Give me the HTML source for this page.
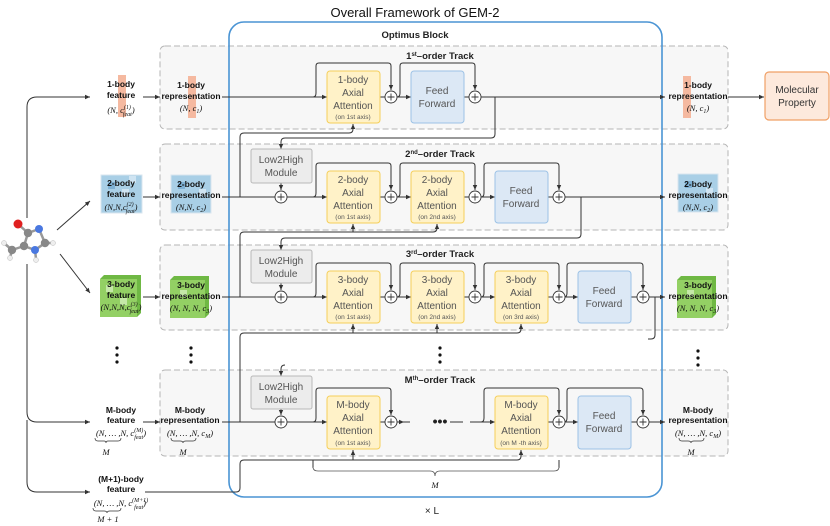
<!DOCTYPE html>
<html><head><meta charset="utf-8"><style>
html,body{margin:0;padding:0;background:#fff;}
svg{display:block;font-family:"Liberation Sans",sans-serif;}
.b{font-weight:bold;font-size:8.5px;fill:#111;text-anchor:middle;}
.m{font-family:"Liberation Serif",serif;font-style:italic;font-size:8.5px;fill:#111;text-anchor:middle;}
.bx{font-size:10px;fill:#555;text-anchor:middle;}
.sm{font-size:6.5px;fill:#555;text-anchor:middle;}
.tt{font-weight:bold;font-size:9.5px;fill:#222;text-anchor:middle;}
.ln{fill:none;stroke:#333;stroke-width:1;}
.att{fill:#fff2c8;stroke:#f5cf5a;stroke-width:1;}
.ff{fill:#dce8f5;stroke:#9cc2e6;stroke-width:1;}
.lh{fill:#ececec;stroke:#b8b8b8;stroke-width:1;}
.pl{fill:#fff;stroke:#333;stroke-width:0.9;}
.trk{fill:#f7f7f7;stroke:#b5b5b5;stroke-width:1;stroke-dasharray:6,3;}
</style></head><body>
<svg width="830" height="526" viewBox="0 0 830 526" xmlns="http://www.w3.org/2000/svg">
<defs>
<marker id="a" markerWidth="6" markerHeight="6" refX="5" refY="3" orient="auto" markerUnits="userSpaceOnUse"><path d="M0,0.8 L5,3 L0,5.2z" fill="#333"/></marker>
<g id="plus"><circle r="6" class="pl"/><path d="M-3.5,0H3.5M0,-3.5V3.5" stroke="#333" stroke-width="0.9"/></g>
</defs>

<rect x="160" y="46" width="568" height="83" rx="5" class="trk"/>
<rect x="160" y="144" width="568" height="86" rx="5" class="trk"/>
<rect x="160" y="245" width="568" height="85" rx="5" class="trk"/>
<rect x="160" y="370" width="568" height="86" rx="5" class="trk"/>

<rect x="229" y="22" width="433" height="475" rx="15" fill="none" stroke="#4a94d4" stroke-width="1.6"/>
<text x="415" y="17" font-size="13" fill="#111" text-anchor="middle">Overall Framework of GEM-2</text>
<text x="415" y="38" class="tt">Optimus Block</text>
<text x="432" y="514" font-size="10" fill="#222" text-anchor="middle">× L</text>

<text x="440" y="59" class="tt">1<tspan font-size="6" dy="-3">st</tspan><tspan dy="3">–order Track</tspan></text>
<text x="440" y="157" class="tt">2<tspan font-size="6" dy="-3">nd</tspan><tspan dy="3">–order Track</tspan></text>
<text x="440" y="257" class="tt">3<tspan font-size="6" dy="-3">rd</tspan><tspan dy="3">–order Track</tspan></text>
<text x="440" y="383" class="tt">M<tspan font-size="6" dy="-3">th</tspan><tspan dy="3">–order Track</tspan></text>

<path class="ln" d="M222,97H665" marker-end="url(#a)"/>
<path class="ln" d="M222,197H665" marker-end="url(#a)"/>
<path class="ln" d="M222,297H665" marker-end="url(#a)"/>
<path class="ln" d="M222,422H417"/>
<path class="ln" d="M463,422H665" marker-end="url(#a)"/>
<path class="ln" d="M728,97H764" marker-end="url(#a)"/>
<rect x="410" y="415" width="60" height="14" fill="#f7f7f7"/>
<text x="440" y="426" font-size="14" font-weight="bold" fill="#222" text-anchor="middle">•••</text>
<path class="ln" d="M450,422H463"/>

<g class="ln">
<path d="M318,97H327" marker-end="url(#a)"/><path d="M402,97H411" marker-end="url(#a)"/>
<path d="M318,197H327" marker-end="url(#a)"/><path d="M402,197H411" marker-end="url(#a)"/><path d="M486,197H495" marker-end="url(#a)"/>
<path d="M318,297H327" marker-end="url(#a)"/><path d="M402,297H411" marker-end="url(#a)"/><path d="M486,297H495" marker-end="url(#a)"/><path d="M569,297H578" marker-end="url(#a)"/>
<path d="M318,422H327" marker-end="url(#a)"/><path d="M486,422H495" marker-end="url(#a)"/><path d="M569,422H578" marker-end="url(#a)"/>
<path d="M397,422H404" marker-end="url(#a)"/>
</g>

<g class="ln">
<path d="M313,97Q316,97 316,93V66Q316,63 319,63H388Q391,63 391,66V90" marker-end="url(#a)"/>
<path d="M397,97Q400,97 400,93V66Q400,63 403,63H472Q475,63 475,66V90" marker-end="url(#a)"/>
<path d="M313,197Q316,197 316,193V166Q316,163 319,163H388Q391,163 391,166V190" marker-end="url(#a)"/>
<path d="M397,197Q400,197 400,193V166Q400,163 403,163H472Q475,163 475,166V190" marker-end="url(#a)"/>
<path d="M481,197Q484,197 484,193V166Q484,163 487,163H556Q559,163 559,166V190" marker-end="url(#a)"/>
<path d="M313,297Q316,297 316,293V266Q316,263 319,263H388Q391,263 391,266V290" marker-end="url(#a)"/>
<path d="M397,297Q400,297 400,293V266Q400,263 403,263H472Q475,263 475,266V290" marker-end="url(#a)"/>
<path d="M481,297Q484,297 484,293V266Q484,263 487,263H556Q559,263 559,266V290" marker-end="url(#a)"/>
<path d="M564,297Q567,297 567,293V266Q567,263 570,263H640Q643,263 643,266V290" marker-end="url(#a)"/>
<path d="M313,422Q316,422 316,418V391Q316,388 319,388H388Q391,388 391,391V415" marker-end="url(#a)"/>
<path d="M481,422Q484,422 484,418V391Q484,388 487,388H556Q559,388 559,391V415" marker-end="url(#a)"/>
<path d="M564,422Q567,422 567,418V391Q567,388 570,388H640Q643,388 643,391V415" marker-end="url(#a)"/>
</g>

<g class="ln">
<path d="M495,97V134Q495,138 491,138H285Q281,138 281,142V149" marker-end="url(#a)"/>
<path d="M240,197V137Q240,133 244,133H349Q353,133 353,129V124" marker-end="url(#a)"/>
<path d="M281,183V190" marker-end="url(#a)"/>
<path d="M581,197V234Q581,238 577,238H285Q281,238 281,242V250" marker-end="url(#a)"/>
<path d="M240,297V236Q240,232 244,232H433Q437,232 437,228V224" marker-end="url(#a)"/>
<path d="M353,232V224" marker-end="url(#a)"/>
<path d="M281,283V290" marker-end="url(#a)"/>
<path d="M655,297V335Q655,339 651,339H648"/>
<path d="M240,422V337Q240,333 244,333H517Q521,333 521,329V324" marker-end="url(#a)"/>
<path d="M353,333V324" marker-end="url(#a)"/><path d="M437,333V324" marker-end="url(#a)"/>
<path d="M285,365Q281,365 281,369V376" marker-end="url(#a)"/>
<path d="M281,409V415" marker-end="url(#a)"/>
<path d="M240,488V464Q240,460 244,460H517Q521,460 521,456V450" marker-end="url(#a)"/>
<path d="M353,460V450" marker-end="url(#a)"/>
<path d="M313,460V468M559,460V468"/>
<path d="M145,492H236Q240,492 240,488"/>
</g>
<path d="M313,467Q313,471 318,471H430Q435,471 435,476Q435,471 440,471H554Q559,471 559,467" fill="none" stroke="#555" stroke-width="0.8"/>
<text x="435" y="488" class="m" font-size="8">M</text>

<g>
<rect x="327" y="71" width="53" height="52" rx="3" class="att"/>
<rect x="411" y="71" width="53" height="52" rx="3" class="ff"/>
<rect x="327" y="171" width="53" height="52" rx="3" class="att"/>
<rect x="411" y="171" width="53" height="52" rx="3" class="att"/>
<rect x="495" y="171" width="53" height="52" rx="3" class="ff"/>
<rect x="327" y="271" width="53" height="52" rx="3" class="att"/>
<rect x="411" y="271" width="53" height="52" rx="3" class="att"/>
<rect x="495" y="271" width="53" height="52" rx="3" class="att"/>
<rect x="578" y="271" width="53" height="52" rx="3" class="ff"/>
<rect x="327" y="396" width="53" height="53" rx="3" class="att"/>
<rect x="495" y="396" width="53" height="53" rx="3" class="att"/>
<rect x="578" y="396" width="53" height="53" rx="3" class="ff"/>
<rect x="251" y="149" width="61" height="34" rx="2" class="lh"/>
<rect x="251" y="250" width="61" height="33" rx="2" class="lh"/>
<rect x="251" y="376" width="61" height="33" rx="2" class="lh"/>
</g>
<g class="bx">
<text x="353" y="83">1-body</text><text x="353" y="96">Axial</text><text x="353" y="109">Attention</text>
<text x="437" y="94">Feed</text><text x="437" y="107">Forward</text>
<text x="353" y="183">2-body</text><text x="353" y="196">Axial</text><text x="353" y="209">Attention</text>
<text x="437" y="183">2-body</text><text x="437" y="196">Axial</text><text x="437" y="209">Attention</text>
<text x="521" y="194">Feed</text><text x="521" y="207">Forward</text>
<text x="353" y="283">3-body</text><text x="353" y="296">Axial</text><text x="353" y="309">Attention</text>
<text x="437" y="283">3-body</text><text x="437" y="296">Axial</text><text x="437" y="309">Attention</text>
<text x="521" y="283">3-body</text><text x="521" y="296">Axial</text><text x="521" y="309">Attention</text>
<text x="604" y="294">Feed</text><text x="604" y="307">Forward</text>
<text x="353" y="408">M-body</text><text x="353" y="421">Axial</text><text x="353" y="434">Attention</text>
<text x="521" y="408">M-body</text><text x="521" y="421">Axial</text><text x="521" y="434">Attention</text>
<text x="604" y="419">Feed</text><text x="604" y="432">Forward</text>
<text x="281" y="163">Low2High</text><text x="281" y="176">Module</text>
<text x="281" y="264">Low2High</text><text x="281" y="277">Module</text>
<text x="281" y="390">Low2High</text><text x="281" y="403">Module</text>
</g>
<g class="sm">
<text x="353" y="119">(on 1st axis)</text>
<text x="353" y="219">(on 1st axis)</text><text x="437" y="219">(on 2nd axis)</text>
<text x="353" y="319">(on 1st axis)</text><text x="437" y="319">(on 2nd axis)</text><text x="521" y="319">(on 3rd axis)</text>
<text x="353" y="445">(on 1st axis)</text><text x="521" y="445">(on M -th axis)</text>
</g>

<use href="#plus" x="391" y="97"/><use href="#plus" x="475" y="97"/>
<use href="#plus" x="281" y="197"/><use href="#plus" x="391" y="197"/><use href="#plus" x="475" y="197"/><use href="#plus" x="559" y="197"/>
<use href="#plus" x="281" y="297"/><use href="#plus" x="391" y="297"/><use href="#plus" x="475" y="297"/><use href="#plus" x="559" y="297"/><use href="#plus" x="643" y="297"/>
<use href="#plus" x="281" y="422"/><use href="#plus" x="391" y="422"/><use href="#plus" x="559" y="422"/><use href="#plus" x="643" y="422"/>

<rect x="765" y="72" width="64" height="48" rx="4" fill="#fde9dc" stroke="#f0a066" stroke-width="1.2"/>
<text x="797" y="93" class="bx" style="fill:#333">Molecular</text>
<text x="797" y="106" class="bx" style="fill:#333">Property</text>

<g class="ln">
<path d="M27,218V107Q27,97 37,97H90" marker-end="url(#a)"/>
<path d="M57,230L90,201" marker-end="url(#a)"/>
<path d="M60,254L90,293" marker-end="url(#a)"/>
<path d="M27,264V412Q27,422 37,422H90" marker-end="url(#a)"/>
<path d="M27,420V482Q27,492 37,492H90" marker-end="url(#a)"/>
<path d="M143,97H160" marker-end="url(#a)"/>
<path d="M143,197H160" marker-end="url(#a)"/>
<path d="M143,297H160" marker-end="url(#a)"/>
<path d="M143,422H160" marker-end="url(#a)"/>
</g>
<g stroke="#999" stroke-width="2.5" fill="none">
<path d="M18,224L28,233L39,229L45,243L35,250L24,246L28,233M24,246L12,250M12,250L4,243M12,250L10,258M45,243L53,243M35,250L36,259"/>
</g>
<circle cx="18" cy="224" r="4.5" fill="#e02020"/>
<circle cx="39" cy="229" r="4" fill="#4a78e0"/>
<circle cx="35" cy="250" r="4" fill="#4a78e0"/>
<circle cx="28" cy="233" r="4.2" fill="#888"/>
<circle cx="24" cy="246" r="4.2" fill="#888"/>
<circle cx="45" cy="243" r="4.2" fill="#888"/>
<circle cx="12" cy="250" r="4.2" fill="#888"/>
<g fill="#eee" stroke="#bbb" stroke-width="0.5">
<circle cx="4" cy="243" r="2.5"/><circle cx="10" cy="258" r="2.5"/><circle cx="53" cy="243" r="2.5"/><circle cx="36" cy="260" r="2.5"/>
</g>

<rect x="118" y="75" width="8" height="42" fill="#f5b9a0"/>
<rect x="188" y="76" width="8" height="42" fill="#f5b9a0"/>
<rect x="683" y="76" width="8" height="42" fill="#f5b9a0"/>
<g>
<rect x="101" y="175" width="41" height="38" fill="#a9cfe6" stroke="#d8e6ef"/>
<rect x="108" y="182" width="7" height="7" fill="#7fb1d4"/><rect x="122" y="189" width="7" height="7" fill="#cfe4f2"/><rect x="129" y="176" width="7" height="7" fill="#cfe4f2"/>
<rect x="171" y="175" width="40" height="38" fill="#a9cfe6" stroke="#d8e6ef"/>
<rect x="178" y="182" width="7" height="7" fill="#7fb1d4"/><rect x="199" y="189" width="7" height="7" fill="#cfe4f2"/>
<rect x="678" y="174" width="40" height="38" fill="#a9cfe6" stroke="#d8e6ef"/>
<rect x="685" y="181" width="7" height="7" fill="#7fb1d4"/><rect x="706" y="188" width="7" height="7" fill="#cfe4f2"/>
<rect x="100" y="279" width="37" height="38" fill="#93d064"/><path d="M100,279L104,275H141V313L137,317V279Z" fill="#6fb844"/>
<rect x="106" y="285" width="7" height="7" fill="#c5e8a8"/><rect x="120" y="298" width="7" height="7" fill="#c5e8a8"/>
<rect x="170" y="280" width="35" height="38" fill="#93d064"/><path d="M170,280L174,276H209V314L205,318V280Z" fill="#6fb844"/>
<rect x="180" y="290" width="7" height="7" fill="#c5e8a8"/>
<rect x="677" y="280" width="35" height="38" fill="#93d064"/><path d="M677,280L681,276H716V314L712,318V280Z" fill="#6fb844"/>
<rect x="687" y="290" width="7" height="7" fill="#c5e8a8"/>
</g>

<text x="121" y="87" class="b">1-body</text><text x="121" y="98" class="b">feature</text>
<text x="121" y="113" class="m">(N, c<tspan font-size="6" dy="-4">(1)</tspan><tspan font-size="6" dy="7" dx="-8">feat</tspan><tspan dy="-3">)</tspan></text>
<text x="191" y="88" class="b">1-body</text><text x="191" y="99" class="b">representation</text><text x="191" y="111" class="m">(N, c<tspan font-size="6" dy="2">1</tspan><tspan dy="-2">)</tspan></text>

<text x="121" y="186" class="b">2-body</text><text x="121" y="197" class="b">feature</text>
<text x="121" y="210" class="m">(N,N,c<tspan font-size="6" dy="-4">(2)</tspan><tspan font-size="6" dy="7" dx="-8">feat</tspan><tspan dy="-3">)</tspan></text>
<text x="191" y="187" class="b">2-body</text><text x="191" y="198" class="b">representation</text><text x="191" y="210" class="m">(N,N, c<tspan font-size="6" dy="2">2</tspan><tspan dy="-2">)</tspan></text>

<text x="121" y="287" class="b">3-body</text><text x="121" y="298" class="b">feature</text>
<text x="121" y="310" class="m">(N,N,N,c<tspan font-size="6" dy="-4">(3)</tspan><tspan font-size="6" dy="7" dx="-8">feat</tspan><tspan dy="-3">)</tspan></text>
<text x="191" y="288" class="b">3-body</text><text x="191" y="299" class="b">representation</text><text x="191" y="311" class="m">(N, N, N, c<tspan font-size="6" dy="2">3</tspan><tspan dy="-2">)</tspan></text>

<g fill="#111">
<circle cx="117" cy="348" r="1.6"/><circle cx="117" cy="355" r="1.6"/><circle cx="117" cy="362" r="1.6"/>
<circle cx="191" cy="348" r="1.6"/><circle cx="191" cy="355" r="1.6"/><circle cx="191" cy="362" r="1.6"/>
<circle cx="440" cy="348" r="1.6"/><circle cx="440" cy="355" r="1.6"/><circle cx="440" cy="362" r="1.6"/>
<circle cx="698" cy="351" r="1.6"/><circle cx="698" cy="358" r="1.6"/><circle cx="698" cy="365" r="1.6"/>
</g>

<text x="121" y="413" class="b">M-body</text><text x="121" y="423" class="b">feature</text>
<text x="121" y="436" class="m">(N, … ,N, c<tspan font-size="6" dy="-4">(M)</tspan><tspan font-size="6" dy="7" dx="-9">feat</tspan><tspan dy="-3">)</tspan></text>
<path d="M95,438Q95,441 98,441H104Q106,441 106,443Q106,441 108,441H118Q121,441 121,438" fill="none" stroke="#333" stroke-width="0.7"/>
<text x="106" y="455" class="m">M</text>
<text x="190" y="413" class="b">M-body</text><text x="190" y="423" class="b">representation</text>
<text x="190" y="436" class="m">(N, … ,N, c<tspan font-size="6" dy="2">M</tspan><tspan dy="-2">)</tspan></text>
<path d="M171,438Q171,441 174,441H180Q183,441 183,443Q183,441 186,441H193Q196,441 196,438" fill="none" stroke="#333" stroke-width="0.7"/>
<text x="183" y="455" class="m">M</text>

<text x="121" y="482" class="b">(M+1)-body</text><text x="121" y="492" class="b">feature</text>
<text x="121" y="506" class="m">(N, … ,N, c<tspan font-size="6" dy="-4">(M+1)</tspan><tspan font-size="6" dy="7" dx="-14">feat</tspan><tspan dy="-3">)</tspan></text>
<path d="M93,508Q93,511 96,511H104Q107,511 107,513Q107,511 110,511H118Q121,511 121,508" fill="none" stroke="#333" stroke-width="0.7"/>
<text x="108" y="522" class="m">M + 1</text>

<text x="698" y="88" class="b">1-body</text><text x="698" y="99" class="b">representation</text><text x="698" y="111" class="m">(N, c<tspan font-size="6" dy="2">1</tspan><tspan dy="-2">)</tspan></text>
<text x="698" y="187" class="b">2-body</text><text x="698" y="198" class="b">representation</text><text x="698" y="210" class="m">(N,N, c<tspan font-size="6" dy="2">2</tspan><tspan dy="-2">)</tspan></text>
<text x="698" y="288" class="b">3-body</text><text x="698" y="299" class="b">representation</text><text x="698" y="311" class="m">(N, N, N, c<tspan font-size="6" dy="2">3</tspan><tspan dy="-2">)</tspan></text>
<text x="698" y="413" class="b">M-body</text><text x="698" y="423" class="b">representation</text>
<text x="698" y="436" class="m">(N, … ,N, c<tspan font-size="6" dy="2">M</tspan><tspan dy="-2">)</tspan></text>
<path d="M679,438Q679,441 682,441H688Q691,441 691,443Q691,441 694,441H701Q704,441 704,438" fill="none" stroke="#333" stroke-width="0.7"/>
<text x="691" y="455" class="m">M</text>
</svg>
</body></html>
